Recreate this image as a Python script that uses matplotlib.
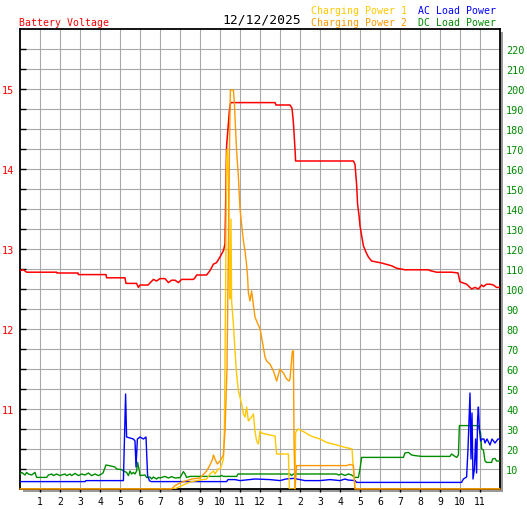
import matplotlib
matplotlib.use("Agg")
import matplotlib.pyplot as plt
from matplotlib.patches import Rectangle

# ---------------- data (hours since midnight) ----------------
volt_t = [0.0, 0.17, 0.33, 1.83, 1.85, 2.9, 2.92, 4.3, 4.33, 5.25, 5.3, 5.83, 5.92, 6.0, 6.4,
          6.67, 6.83, 7.0, 7.25, 7.42, 7.58, 7.75, 7.92, 8.08, 8.67, 8.75, 8.83, 9.33, 9.5,
          9.67, 9.83, 10.0, 10.17, 10.25, 10.33, 10.47, 10.53, 12.75, 12.8, 13.5, 13.6, 13.67,
          13.75, 13.78, 16.67, 16.75, 16.83, 16.88, 16.95, 17.0, 17.08, 17.17, 17.3, 17.42,
          17.58, 18.08, 18.58, 18.83, 19.25, 20.42, 20.5, 20.83, 21.58, 21.9, 22.0, 22.33,
          22.5, 22.58, 22.75, 22.92, 23.08, 23.17, 23.33, 23.5, 23.67, 23.83, 24.0]
volt_v = [12.73, 12.74, 12.71, 12.71, 12.70, 12.70, 12.68, 12.68, 12.64, 12.64, 12.57, 12.57,
          12.52, 12.55, 12.55, 12.62, 12.60, 12.63, 12.63, 12.58, 12.61, 12.61, 12.58, 12.62,
          12.62, 12.64, 12.675, 12.675, 12.73, 12.81, 12.83, 12.90, 12.98, 13.06, 14.29, 14.73,
          14.83, 14.83, 14.80, 14.80, 14.76, 14.58, 14.25, 14.10, 14.10, 14.06, 13.81, 13.56,
          13.42, 13.29, 13.17, 13.04, 12.96, 12.90, 12.85, 12.825, 12.79, 12.76, 12.74, 12.74,
          12.73, 12.71, 12.71, 12.70, 12.59, 12.56, 12.52, 12.50, 12.52, 12.50, 12.55, 12.53,
          12.56, 12.56, 12.55, 12.52, 12.52]

cp1_t = [0.0, 7.65, 7.83, 8.5, 9.0, 9.33, 9.5, 9.67, 9.75, 9.9, 10.0, 10.1, 10.17, 10.22,
         10.28, 10.33, 10.37, 10.42, 10.47, 10.5, 10.55, 10.58, 10.67, 10.75, 10.83, 10.92,
         11.0, 11.08, 11.17, 11.25, 11.33, 11.42, 11.58, 11.67, 11.75, 11.83, 11.92, 12.0,
         12.08, 12.25, 12.75, 12.83, 13.42, 13.47, 13.75, 13.78, 13.9, 14.25, 14.5, 14.75,
         15.0, 15.33, 15.83, 16.25, 16.5, 16.6, 16.67, 16.75, 24.0]
cp1_p = [0, 0, 0.5, 3.5, 4.5, 5, 7.5, 9, 7.5, 10, 10, 12.5, 15, 30, 100, 165, 170, 152, 102,
         95, 135, 94, 82.5, 69, 57.5, 49, 46, 42.5, 37.5, 36, 41, 34, 36, 37.5, 29, 24, 22.5,
         29, 28, 27.5, 26.5, 17.5, 17.5, 0, 0, 28.3, 30, 28.3, 26.7, 25.8, 25, 23.3, 22,
         20.8, 20.3, 20, 10, 0, 0]

cp2_t = [0.0, 7.58, 7.75, 8.1, 8.6, 9.0, 9.15, 9.33, 9.5, 9.63, 9.67, 9.75, 9.87, 10.0,
         10.17, 10.25, 10.35, 10.42, 10.48, 10.52, 10.67, 10.72, 10.75, 10.83, 10.92, 11.0,
         11.08, 11.17, 11.25, 11.33, 11.38, 11.42, 11.5, 11.58, 11.67, 11.75, 11.83, 12.0,
         12.05, 12.25, 12.33, 12.5, 12.67, 12.75, 12.83, 13.0, 13.17, 13.33, 13.45, 13.5,
         13.62, 13.67, 13.7, 13.75, 13.83, 16.33, 16.5, 16.67, 16.75, 24.0]
cp2_p = [0, 0, 1.7, 3.5, 5, 5.5, 7, 9, 12, 15, 17, 15, 12.5, 14, 17, 29, 60, 120, 175,
         199.5, 199.5, 193, 186, 169, 156, 140, 132.5, 124, 119, 112, 106, 98, 94, 99, 92,
         86, 84, 80, 77.5, 66, 64, 62.5, 59, 56.7, 54, 60, 58, 55, 54, 55, 69, 69, 26, 0,
         11.7, 11.7, 12.3, 11.7, 0, 0]

ac_t = [0.0, 3.25, 3.3, 5.17, 5.28, 5.33, 5.67, 5.75, 5.8, 5.87, 6.0, 6.17, 6.3, 6.38, 6.47,
        6.55, 10.33, 10.4, 10.75, 11.0, 11.75, 12.5, 13.0, 13.3, 13.67, 14.0, 14.25, 15.0,
        15.5, 16.0, 16.25, 16.4, 16.75, 16.83, 22.08, 22.17, 22.33, 22.4, 22.5, 22.55, 22.6,
        22.65, 22.72, 22.78, 22.83, 22.88, 22.92, 22.97, 23.03, 23.1, 23.2, 23.25, 23.35,
        23.5, 23.6, 23.75, 23.9, 24.0]
ac_p = [3.7, 3.7, 4.2, 4.2, 47.5, 26, 25, 24, 11, 25, 26, 25, 26, 6.7, 4.2, 3.7, 3.7, 4.7,
        4.7, 4.2, 5.0, 4.7, 4.2, 5.0, 5.3, 4.7, 4.2, 4.2, 4.7, 4.2, 5.0, 4.5, 4.2, 3.3, 3.3,
        5, 6, 20, 48, 15, 38, 5, 10, 25, 8, 35, 41, 30, 24, 25, 25, 23, 25, 22, 25, 23, 25, 25]

dc_t = [0.0, 0.08, 0.25, 0.33, 0.42, 0.58, 0.75, 0.83, 1.33, 1.42, 1.58, 1.67, 1.83, 2.0,
        2.08, 2.25, 2.33, 2.5, 2.58, 2.75, 2.92, 3.08, 3.25, 3.42, 3.58, 3.75, 3.92, 4.08,
        4.15, 4.3, 4.55, 4.75, 4.83, 5.08, 5.17, 5.33, 5.42, 5.5, 5.58, 5.67, 5.75, 5.83,
        5.88, 5.97, 6.0, 6.25, 6.33, 6.5, 6.58, 6.67, 6.75, 6.83, 6.92, 7.0, 7.25, 7.42,
        7.58, 7.75, 8.0, 8.17, 8.25, 8.33, 8.5, 8.58, 10.0, 10.08, 10.17, 10.83, 10.9, 13.5,
        13.58, 13.67, 15.83, 15.92, 16.08, 16.25, 16.42, 16.58, 16.75, 16.92, 17.0, 17.08,
        19.17, 19.25, 19.42, 19.58, 19.75, 20.08, 21.5, 21.58, 21.75, 21.83, 21.92, 21.97,
        22.92, 22.97, 23.03, 23.08, 23.17, 23.25, 23.33, 23.58, 23.63, 23.75, 23.83, 24.0]
dc_p = [7.5, 8.3, 7.0, 8.3, 7.5, 7.0, 8.3, 5.8, 5.8, 7.0, 7.5, 6.7, 7.5, 6.7, 7.0, 7.5, 6.7,
        7.5, 6.7, 7.8, 6.7, 7.5, 7.0, 8.0, 6.7, 7.5, 6.7, 7.5, 8, 12, 11.5, 11, 10, 9.7, 9,
        8.3, 6.7, 9, 7.5, 8.3, 7.5, 9, 13.3, 9, 6.7, 7.0, 5.7, 6, 5, 6, 5.5, 5, 5.8, 5.5, 6.3,
        5.5, 6.2, 5.5, 5.7, 8.7, 7.5, 5.8, 6.3, 6.3, 6.3, 6.8, 6.3, 6.3, 7.5, 7.5, 6.7, 7.5,
        7.5, 7.0, 7.5, 6.8, 7.5, 7.0, 5.8, 5.8, 10, 15.8, 15.8, 18, 18.3, 17, 16.7, 16.3,
        16.3, 17.5, 16.3, 15.8, 17, 31.7, 31.7, 30, 28, 20, 19.5, 14, 13.3, 13.3, 15, 15.3,
        14, 14]

hour_labels = ["1", "2", "3", "4", "5", "6", "7", "8", "9", "10", "11", "12",
               "1", "2", "3", "4", "5", "6", "7", "8", "9", "10", "11"]
power_labels = [str(v) for v in range(10, 230, 10)]

title_left = "Battery Voltage"
date_text = "12/12/2025"
legend_names = ["Charging Power 1", "Charging Power 2", "AC Load Power", "DC Load Power"]

# ---------------- styling ----------------
RED = "#ff0000"
YEL = "#ffc800"
ORA = "#ff9900"
BLUE = "#0000ff"
GREEN = "#008c00"
GRID = "#a8a8a8"
MONO = "DejaVu Sans Mono"

W, H = 527, 510
fig = plt.figure(figsize=(W / 100, H / 100), dpi=100)
fig.patch.set_facecolor("white")

L, R, T, B = 20, 500, 30, 490
def fx(x): return x / W
def fy(y): return 1 - y / H

# drop shadow
fig.patches.append(Rectangle((fx(L + 3), fy(B + 3)), (R - L) / W, (B - T) / H,
                             transform=fig.transFigure, facecolor="#999999",
                             edgecolor="none", zorder=0))

ax = fig.add_axes([fx(L), fy(B), (R - L) / W, (B - T) / H])
ax.set_facecolor("white")
ax.set_xlim(0, 24)
ax.set_ylim(10, 15.75)
ax.set_zorder(2)

ax.set_xticks(range(1, 24))
ax.set_xticklabels(hour_labels, fontfamily=MONO, fontsize=7.0, color="black")
yt = [10 + 0.25 * k for k in range(1, 23)]
ax.set_yticks(yt)
ax.set_yticklabels([str(int(v)) if abs(v - round(v)) < 1e-9 else "" for v in yt],
                   fontfamily=MONO, fontsize=7.4, color=RED)
ax.grid(True, color=GRID, linewidth=0.8)
ax.set_axisbelow(True)
ax.tick_params(axis="x", direction="out", length=2.5, width=1, color="black", pad=2.5)
ax.tick_params(axis="y", direction="in", length=4, width=1, color="black", pad=4)
for s in ax.spines.values():
    s.set_color("black")
    s.set_linewidth(1.3)

ax.plot(volt_t, volt_v, color=RED, lw=1.1, zorder=3)

ax2 = ax.twinx()
ax2.set_ylim(0, 230)
ax2.set_yticks(range(10, 230, 10))
ax2.set_yticklabels(power_labels, fontfamily=MONO, fontsize=7.4, color=GREEN)
ax2.tick_params(axis="y", length=0, pad=4.5)
for s in ax2.spines.values():
    s.set_visible(False)

ax2.plot(dc_t, dc_p, color=GREEN, lw=1.0)
ax2.plot(ac_t, ac_p, color=BLUE, lw=1.0)
ax2.plot(cp1_t, cp1_p, color=YEL, lw=1.0)
ax2.plot(cp2_t, cp2_p, color=ORA, lw=1.0, clip_on=False)

# header texts
fig.text(fx(19), fy(23), title_left, color=RED, fontfamily=MONO, fontsize=7.1, va="center", ha="left")
fig.text(fx(222), fy(20), date_text, color="black", fontfamily=MONO, fontsize=9.4, va="center", ha="left")
fig.text(fx(311), fy(11), legend_names[0], color=YEL, fontfamily=MONO, fontsize=7.1, va="center", ha="left")
fig.text(fx(311), fy(23), legend_names[1], color=ORA, fontfamily=MONO, fontsize=7.1, va="center", ha="left")
fig.text(fx(418), fy(11), legend_names[2], color=BLUE, fontfamily=MONO, fontsize=7.1, va="center", ha="left")
fig.text(fx(418), fy(23), legend_names[3], color=GREEN, fontfamily=MONO, fontsize=7.1, va="center", ha="left")

fig.savefig("out.png", dpi=100, facecolor="white")
